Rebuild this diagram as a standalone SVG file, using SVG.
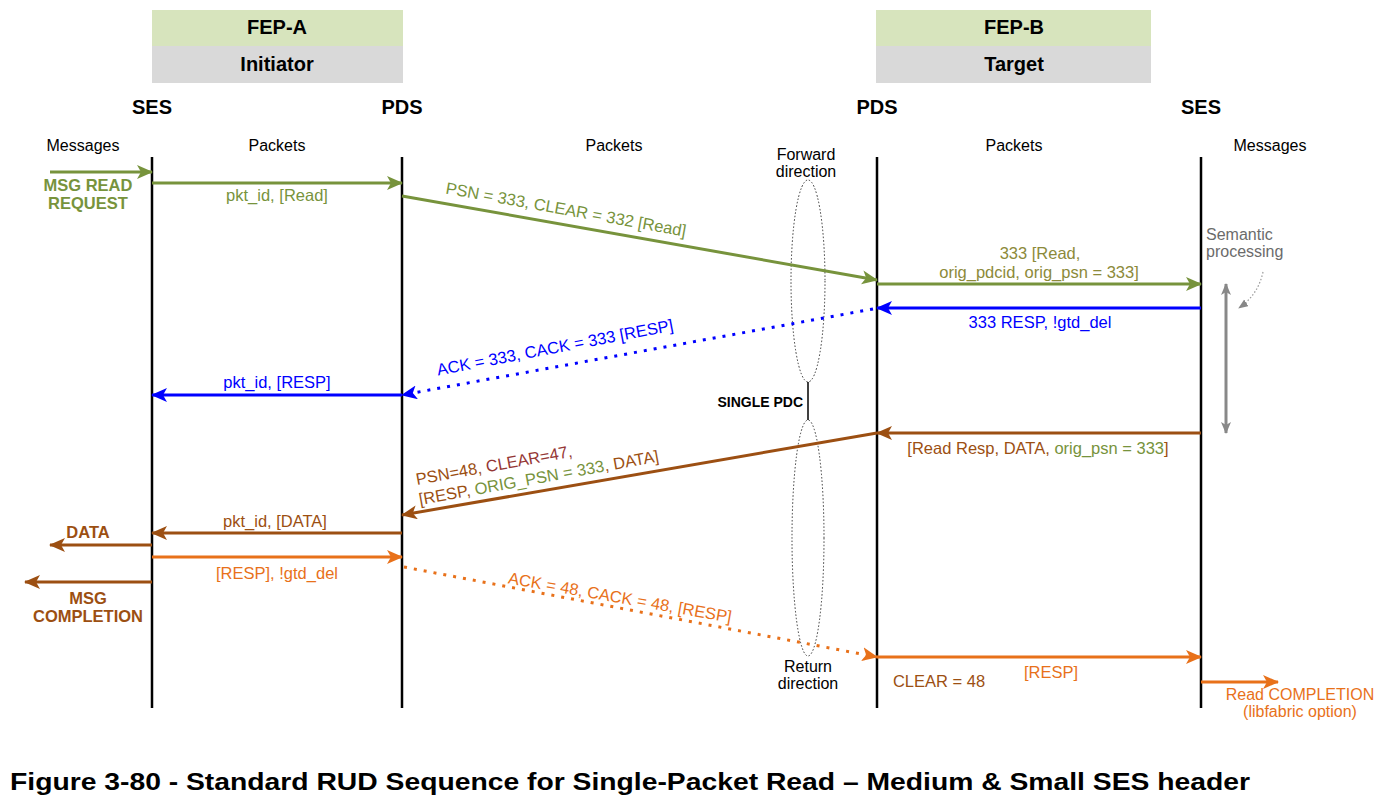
<svg xmlns="http://www.w3.org/2000/svg" width="1383" height="809" viewBox="0 0 1383 809">
<style>
text{font-family:"Liberation Sans",Arial,sans-serif;font-size:16.5px}
.b{font-weight:bold}
.h{font-weight:bold;font-size:20px}
.c{text-anchor:middle}
.sm{font-size:16px}
.cap{font-weight:bold;font-size:24px}
.pdc{font-weight:bold;font-size:14px}
.life{stroke:#000;stroke-width:2.5}
.g{stroke:#77933c;stroke-width:3;fill:none}
.bl{stroke:#0000ff;stroke-width:3;fill:none}
.br{stroke:#9c4f12;stroke-width:3;fill:none}
.or{stroke:#e8711a;stroke-width:3;fill:none}
.dot{stroke-dasharray:3 7}
.tg{fill:#77933c}.tol{fill:#8c8a3a}.tb{fill:#0000ff}.tbr{fill:#9c4f12}.tr{fill:#953735}.to{fill:#e8711a}.tgr{fill:#6b6b6b}
.ell{fill:none;stroke:#333;stroke-width:1;stroke-dasharray:1.5 2}
</style>
<defs>
<marker id="ag" markerUnits="userSpaceOnUse" markerWidth="18" markerHeight="16" refX="15" refY="7" orient="auto"><path d="M0,0 L16,7 L0,14 L4,7z" fill="#77933c"/></marker>
<marker id="ab" markerUnits="userSpaceOnUse" markerWidth="18" markerHeight="16" refX="15" refY="7" orient="auto"><path d="M0,0 L16,7 L0,14 L4,7z" fill="#0000ff"/></marker>
<marker id="abr" markerUnits="userSpaceOnUse" markerWidth="18" markerHeight="16" refX="15" refY="7" orient="auto"><path d="M0,0 L16,7 L0,14 L4,7z" fill="#9c4f12"/></marker>
<marker id="ao" markerUnits="userSpaceOnUse" markerWidth="18" markerHeight="16" refX="15" refY="7" orient="auto"><path d="M0,0 L16,7 L0,14 L4,7z" fill="#e8711a"/></marker>
<marker id="agr" markerUnits="userSpaceOnUse" markerWidth="14" markerHeight="12" refX="11" refY="5" orient="auto-start-reverse"><path d="M0,0 L12,5 L0,10 L3,5z" fill="#888"/></marker>
<marker id="agr2" markerUnits="userSpaceOnUse" markerWidth="12" markerHeight="10" refX="9" refY="4" orient="auto"><path d="M0,0 L10,4 L0,8z" fill="#888"/></marker>
</defs>

<g id="fep-a">
<rect x="152" y="10" width="251" height="36" fill="#d7e4bd"/>
<rect x="152" y="46" width="251" height="37" fill="#d9d9d9"/>
<text class="h c" x="277" y="34">FEP-A</text>
<text class="h c" x="277" y="71">Initiator</text>
</g>
<g id="fep-b">
<rect x="876" y="10" width="275" height="36" fill="#d7e4bd"/>
<rect x="876" y="46" width="275" height="37" fill="#d9d9d9"/>
<text class="h c" x="1014" y="34">FEP-B</text>
<text class="h c" x="1014" y="71">Target</text>
</g>

<g id="lifeline-ses-a"><text class="h c" x="152" y="114">SES</text><line class="life" x1="152" y1="157" x2="152" y2="708"/></g>
<g id="lifeline-pds-a"><text class="h c" x="402" y="114">PDS</text><line class="life" x1="402" y1="157" x2="402" y2="708"/></g>
<g id="lifeline-pds-b"><text class="h c" x="877" y="114">PDS</text><line class="life" x1="877" y1="157" x2="877" y2="708"/></g>
<g id="lifeline-ses-b"><text class="h c" x="1201" y="114">SES</text><line class="life" x1="1201" y1="157" x2="1201" y2="708"/></g>

<g id="column-labels">
<text class="c sm" x="83" y="151">Messages</text>
<text class="c sm" x="277" y="151">Packets</text>
<text class="c sm" x="614" y="151">Packets</text>
<text class="c sm" x="1014" y="151">Packets</text>
<text class="c sm" x="1270" y="151">Messages</text>
</g>

<g id="single-pdc">
<ellipse class="ell" cx="808" cy="281" rx="17" ry="101"/>
<ellipse class="ell" cx="808" cy="538" rx="16" ry="118"/>
<line x1="808" y1="382" x2="808" y2="420" stroke="#000" stroke-width="1.5"/>
<text class="pdc" x="803" y="407" text-anchor="end">SINGLE PDC</text>
<text class="c sm" x="806" y="160">Forward</text>
<text class="c sm" x="806" y="177">direction</text>
<text class="c sm" x="808" y="672">Return</text>
<text class="c sm" x="808" y="689">direction</text>
</g>

<g id="semantic">
<text class="tgr sm" x="1206" y="240">Semantic</text>
<text class="tgr sm" x="1206" y="257">processing</text>
<line x1="1226" y1="284" x2="1226" y2="433" stroke="#888" stroke-width="3" marker-start="url(#agr)" marker-end="url(#agr)"/>
<path d="M1263,272 Q1258,295 1239,308" fill="none" stroke="#999" stroke-width="1.2" stroke-dasharray="1.5 2" marker-end="url(#agr2)"/>
</g>

<g id="connectors">
<line class="g" x1="50" y1="172" x2="152" y2="172" marker-end="url(#ag)"/>
<line class="g" x1="152" y1="183" x2="402" y2="183" marker-end="url(#ag)"/>
<line class="g" x1="402" y1="196" x2="877" y2="280" marker-end="url(#ag)"/>
<line class="g" x1="877" y1="284" x2="1201" y2="284" marker-end="url(#ag)"/>
<line class="bl" x1="1201" y1="308" x2="877" y2="308" marker-end="url(#ab)"/>
<line class="bl dot" x1="873" y1="309" x2="402" y2="395" marker-end="url(#ab)"/>
<line class="bl" x1="402" y1="395" x2="152" y2="395" marker-end="url(#ab)"/>
<line class="br" x1="1201" y1="433" x2="877" y2="433" marker-end="url(#abr)"/>
<line class="br" x1="877" y1="433" x2="402" y2="515" marker-end="url(#abr)"/>
<line class="br" x1="402" y1="533" x2="152" y2="533" marker-end="url(#abr)"/>
<line class="br" x1="152" y1="545" x2="50" y2="545" marker-end="url(#abr)"/>
<line class="or" x1="152" y1="557" x2="402" y2="557" marker-end="url(#ao)"/>
<line class="br" x1="152" y1="582" x2="25" y2="582" marker-end="url(#abr)"/>
<line class="or dot" x1="404" y1="567" x2="877" y2="657" marker-end="url(#ao)"/>
<line class="or" x1="877" y1="657" x2="1201" y2="657" marker-end="url(#ao)"/>
<line class="or" x1="1201" y1="682" x2="1278" y2="682" marker-end="url(#ao)"/>
</g>

<g id="labels">
<text class="b c tg" x="88" y="191">MSG READ</text>
<text class="b c tg" x="88" y="209">REQUEST</text>
<text class="c tg" x="277" y="201">pkt_id, [Read]</text>
<text class="c tg" transform="rotate(10.2 565 215)" x="565" y="215">PSN = 333, CLEAR = 332 [Read]</text>
<text class="c tol" x="1040" y="259">333 [Read,</text>
<text class="c tol" x="1039" y="278">orig_pdcid, orig_psn = 333]</text>
<text class="c tb" x="1040" y="328">333 RESP, !gtd_del</text>
<text class="c tb" transform="rotate(-10.8 556 353)" x="556" y="353">ACK = 333, CACK = 333 [RESP]</text>
<text class="c tb" x="277" y="388">pkt_id, [RESP]</text>
<text class="c tbr" x="1038" y="454">[Read Resp, DATA, <tspan class="tg">orig_psn  = 333</tspan>]</text>
<text transform="rotate(-10.3 417 485)" x="417" y="485"><tspan class="tbr">PSN=48, </tspan><tspan class="tr">CLEAR=47,</tspan></text>
<text class="tbr" transform="rotate(-10.3 420 505)" x="420" y="505">[RESP, <tspan class="tg">ORIG_PSN = 333</tspan>, DATA]</text>
<text class="c tbr" x="275" y="527">pkt_id, [DATA]</text>
<text class="b c tbr" x="88" y="538">DATA</text>
<text class="c to" x="277" y="579">[RESP], !gtd_del</text>
<text class="b c tbr" x="88" y="604">MSG</text>
<text class="b c tbr" x="88" y="622">COMPLETION</text>
<text class="c to" transform="rotate(10 619 603)" x="619" y="603">ACK = 48, CACK = 48, [RESP]</text>
<text class="c to" x="1051" y="678">[RESP]</text>
<text class="c tbr" x="939" y="687">CLEAR = 48</text>
<text class="c to sm" x="1300" y="700">Read COMPLETION</text>
<text class="c to sm" x="1300" y="717">(libfabric option)</text>
</g>

<text class="cap" x="10" y="790" textLength="1240" lengthAdjust="spacingAndGlyphs">Figure 3-80 - Standard RUD Sequence for Single-Packet Read – Medium &amp; Small SES header</text>
</svg>
